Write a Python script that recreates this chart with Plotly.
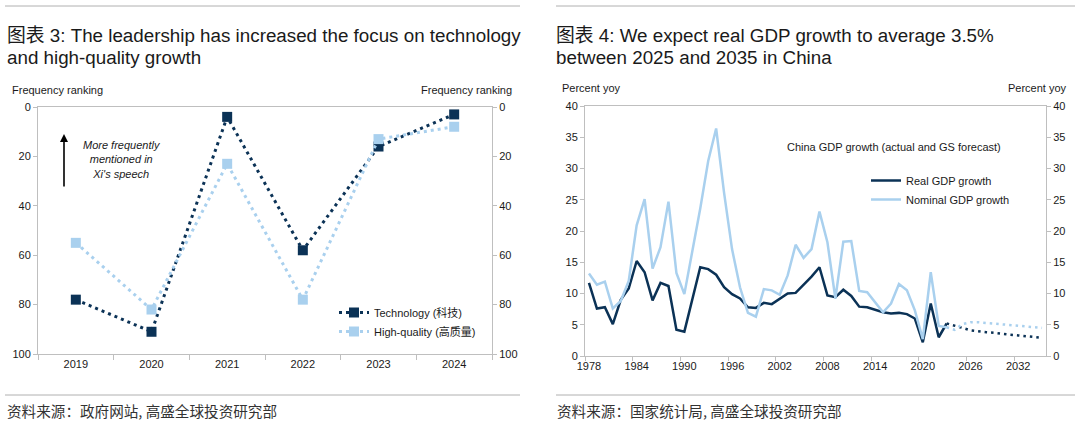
import plotly.graph_objects as go

# ---------------- data: chart 3 ----------------
rank_years = [2019, 2020, 2021, 2022, 2023, 2024]
tech_rank = [78, 91, 4, 58, 16, 3]
hq_rank = [55, 82, 23, 78, 13, 8]

# ---------------- data: chart 4 ----------------
act_years = list(range(1978, 2024))
real_gdp = [11.7, 7.6, 7.8, 5.1, 9.0, 10.8, 15.2, 13.4, 8.9, 11.7,
            11.2, 4.2, 3.9, 9.3, 14.2, 13.9, 13.0, 11.0, 9.9, 9.2,
            7.8, 7.7, 8.5, 8.3, 9.1, 10.0, 10.1, 11.4, 12.7, 14.2,
            9.7, 9.4, 10.6, 9.6, 7.9, 7.8, 7.4, 7.0, 6.8, 6.9,
            6.7, 6.0, 2.2, 8.4, 3.0, 5.2]
nominal_gdp = [13.2, 11.4, 11.9, 7.6, 8.8, 12.0, 20.9, 25.1, 14.0, 17.4,
               24.7, 13.3, 9.9, 16.7, 23.6, 31.2, 36.4, 26.1, 17.1, 11.0,
               6.9, 6.3, 10.7, 10.5, 9.8, 12.9, 17.8, 15.7, 17.1, 23.1,
               18.2, 9.2, 18.3, 18.4, 10.4, 10.2, 8.6, 7.0, 8.4, 11.5,
               10.5, 7.3, 2.7, 13.4, 4.8, 4.6]
fc_years = list(range(2023, 2036))
real_fc = [5.2, 4.9, 4.5, 4.1, 3.9, 3.8, 3.7, 3.5, 3.4, 3.3, 3.2, 3.0, 2.9]
nominal_fc = [4.6, 4.2, 5.1, 5.4, 5.4, 5.3, 5.2, 5.1, 5.0, 4.9, 4.8, 4.6, 4.5]
gdp_tick_years = [1978, 1984, 1990, 1996, 2002, 2008, 2014, 2020, 2026, 2032]

NAVY = "#0b3256"
LIGHT = "#a9d0ee"
GRAY = "#bfbfbf"
TXT = "#1a1a1a"
FONT = "Liberation Sans, Arial, Noto Sans CJK SC, sans-serif"
CJK = "Noto Sans CJK SC, Liberation Sans, sans-serif"

fig = go.Figure()

# chart 3 traces
fig.add_trace(go.Scatter(
    x=rank_years, y=tech_rank, name="Technology (科技)", mode="lines+markers",
    line=dict(color=NAVY, width=3, dash="3px,4px"),
    marker=dict(symbol="square", size=10, color=NAVY),
    xaxis="x", yaxis="y", legend="legend"))
fig.add_trace(go.Scatter(
    x=rank_years, y=hq_rank, name="High-quality (高质量)", mode="lines+markers",
    line=dict(color=LIGHT, width=3, dash="3px,4px"),
    marker=dict(symbol="square", size=10, color=LIGHT),
    xaxis="x", yaxis="y2", legend="legend"))

# chart 4 traces
fig.add_trace(go.Scatter(
    x=act_years, y=real_gdp, name="Real GDP growth", mode="lines",
    line=dict(color=NAVY, width=2.5), xaxis="x2", yaxis="y3", legend="legend2"))
fig.add_trace(go.Scatter(
    x=act_years, y=nominal_gdp, name="Nominal GDP growth", mode="lines",
    line=dict(color=LIGHT, width=2.5), xaxis="x2", yaxis="y4", legend="legend2"))
fig.add_trace(go.Scatter(
    x=fc_years, y=real_fc, mode="lines", showlegend=False,
    line=dict(color=NAVY, width=2.5, dash="2.5px,4px"), xaxis="x2", yaxis="y3"))
fig.add_trace(go.Scatter(
    x=fc_years, y=nominal_fc, mode="lines", showlegend=False,
    line=dict(color=LIGHT, width=2.5, dash="2.5px,4px"), xaxis="x2", yaxis="y4"))

W, H = 1080, 422
def px(x):
    return x / W
def py(y):
    return 1 - y / H

tickfont = dict(family=FONT, size=11, color=TXT)
axis_common = dict(showgrid=False, zeroline=False, showline=True, linecolor=GRAY,
                   linewidth=1, tickfont=tickfont, tickcolor=GRAY, ticklen=4,
                   automargin=False)
axis_noticklen = {k: v for k, v in axis_common.items() if k != "ticklen"}

fig.update_layout(
    width=W, height=H, margin=dict(l=0, r=0, t=0, b=0, autoexpand=False),
    paper_bgcolor="white", plot_bgcolor="white",
    font=dict(family=FONT, size=11, color=TXT),
    xaxis=dict(domain=[px(38), px(492)], anchor="y", range=[2018.5, 2024.5],
               tickvals=rank_years, ticks="", mirror=True,
               minor=dict(tickvals=[2018.5 + i for i in range(7)], ticks="outside",
                          ticklen=5, tickcolor=GRAY),
               **axis_noticklen),
    yaxis=dict(domain=[py(354), py(107)], anchor="x", range=[100, 0], dtick=20,
               ticks="outside", **axis_common),
    yaxis2=dict(overlaying="y", anchor="x", side="right", range=[100, 0], dtick=20,
                ticks="outside", **axis_common),
    xaxis2=dict(domain=[px(585), px(1046)], anchor="y3", range=[1977.5, 2035.5],
                tickvals=gdp_tick_years, ticks="", mirror=True,
                minor=dict(tickvals=[1977.5 + 6 * i for i in range(10)], ticks="outside",
                           ticklen=4, tickcolor=GRAY),
                **axis_noticklen),
    yaxis3=dict(domain=[py(356), py(106)], anchor="x2", range=[0, 40], dtick=5,
                ticks="outside", **axis_common),
    yaxis4=dict(overlaying="y3", anchor="x2", side="right", range=[0, 40], dtick=5,
                ticks="outside", **axis_common),
    legend=dict(x=px(334), y=py(298), xanchor="left", yanchor="top",
                bgcolor="rgba(0,0,0,0)", font=dict(family=FONT, size=11, color=TXT),
                tracegroupgap=0, itemwidth=30),
    legend2=dict(x=px(866), y=py(166), xanchor="left", yanchor="top",
                 bgcolor="rgba(0,0,0,0)", font=dict(family=FONT, size=11, color=TXT),
                 tracegroupgap=0, itemwidth=30),
)

ann = []
def txt(x, y, s, size=11, anchor="left", family=FONT, color=TXT):
    ann.append(dict(xref="paper", yref="paper", x=px(x), y=py(y), text=s,
                    showarrow=False, xanchor=anchor, yanchor="middle",
                    font=dict(family=family, size=size, color=color)))

# titles
TS = 18.8
txt(5, 35, "图表 3: The leadership has increased the focus on technology", size=TS)
txt(5, 58, "and high-quality growth", size=TS)
txt(554, 35, "图表 4: We expect real GDP growth to average 3.5%", size=TS)
txt(554, 58, "between 2025 and 2035 in China", size=TS)
# axis titles
txt(10, 90, "Frequency ranking")
txt(514, 90, "Frequency ranking", anchor="right")
txt(560, 88, "Percent yoy")
txt(1069, 88, "Percent yoy", anchor="right")
# inner annotations
ann.append(dict(xref="paper", yref="paper", x=px(122), y=py(159),
                text="<i>More frequently<br>mentioned in<br>Xi's speech</i>",
                showarrow=False, xanchor="center", yanchor="middle", align="center",
                font=dict(family=FONT, size=11, color=TXT)))
ann.append(dict(xref="paper", yref="paper", x=px(64), y=py(134), text="",
                showarrow=True, axref="pixel", ayref="pixel", ax=0, ay=54,
                arrowhead=2, arrowsize=1, arrowwidth=1.6, arrowcolor="black"))
txt(785, 147, "China GDP growth (actual and GS forecast)")
# sources
txt(5, 410, "资料来源：政府网站, 高盛全球投资研究部", size=14.6, family=CJK, color="#333333")
txt(555, 410, "资料来源：国家统计局, 高盛全球投资研究部", size=14.6, family=CJK, color="#333333")
fig.update_layout(annotations=ann)

shapes = []
for x0, x1 in [(5, 520), (556, 1075)]:
    for yy in (6, 395):
        shapes.append(dict(type="line", xref="paper", yref="paper",
                           x0=px(x0), x1=px(x1), y0=py(yy), y1=py(yy),
                           line=dict(color="#b0b0b0", width=1)))
fig.update_layout(shapes=shapes)

fig.write_html("out.html")
